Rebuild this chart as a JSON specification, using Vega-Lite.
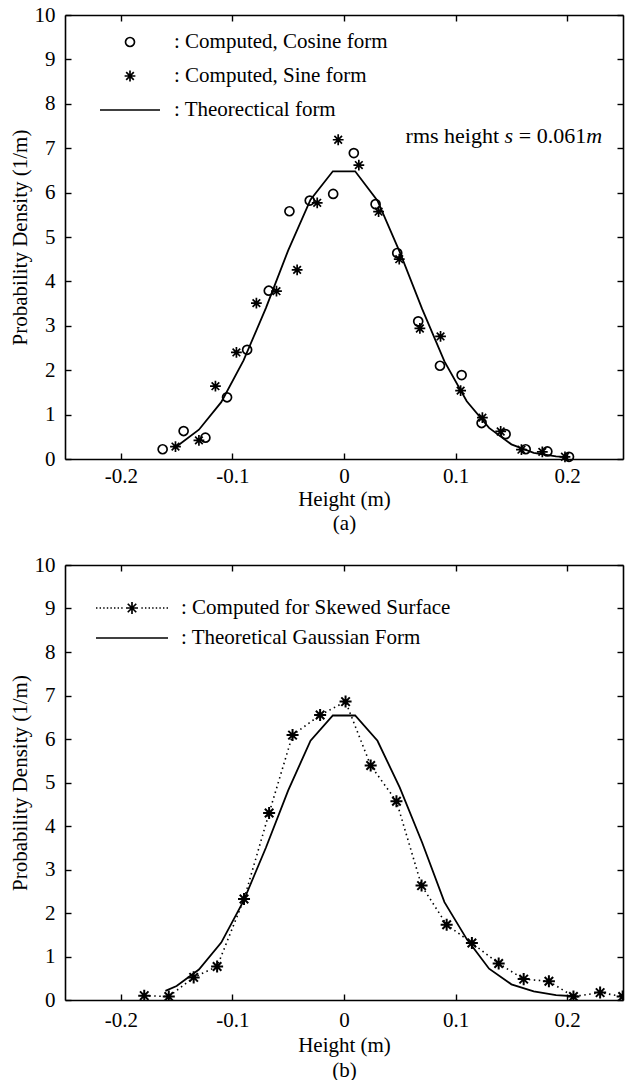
{
  "$schema": "https://vega.github.io/schema/vega-lite/v6.json",
  "background": "white",
  "padding": {"left": 9, "top": 4, "right": 2, "bottom": 0},
  "spacing": 21,
  "resolve": {"scale": {"shape": "independent"}, "legend": {"shape": "independent"}},
  "config": {
    "view": {"stroke": null},
    "font": "Liberation Serif",
    "axis": {
      "labelFont": "Liberation Serif", "labelFontSize": 21, "labelColor": "black",
      "titleFont": "Liberation Serif", "titleFontSize": 21, "titleFontWeight": "normal", "titleColor": "black",
      "domainColor": "black", "domainWidth": 1.6, "tickColor": "black", "tickWidth": 1.4, "tickSize": -6, "grid": false
    }
  },
  "datasets": {
    "thA": [
      {"h": -0.15, "p": 0.28}, {"h": -0.13, "p": 0.66}, {"h": -0.11, "p": 1.28}, {"h": -0.09, "p": 2.22},
      {"h": -0.07, "p": 3.40}, {"h": -0.05, "p": 4.70}, {"h": -0.03, "p": 5.84}, {"h": -0.01, "p": 6.48},
      {"h": 0.01, "p": 6.48}, {"h": 0.03, "p": 5.82}, {"h": 0.05, "p": 4.66}, {"h": 0.07, "p": 3.38},
      {"h": 0.09, "p": 2.20}, {"h": 0.11, "p": 1.30}, {"h": 0.13, "p": 0.70}, {"h": 0.15, "p": 0.33},
      {"h": 0.17, "p": 0.14}, {"h": 0.19, "p": 0.06}, {"h": 0.20, "p": 0.04}
    ],
    "ptsA": [
      {"h": -0.1625, "p": 0.22, "series": "Computed, Cosine form"},
      {"h": -0.1437, "p": 0.63, "series": "Computed, Cosine form"},
      {"h": -0.1242, "p": 0.48, "series": "Computed, Cosine form"},
      {"h": -0.1048, "p": 1.39, "series": "Computed, Cosine form"},
      {"h": -0.0868, "p": 2.46, "series": "Computed, Cosine form"},
      {"h": -0.0674, "p": 3.79, "series": "Computed, Cosine form"},
      {"h": -0.0489, "p": 5.58, "series": "Computed, Cosine form"},
      {"h": -0.0307, "p": 5.82, "series": "Computed, Cosine form"},
      {"h": -0.0097, "p": 5.97, "series": "Computed, Cosine form"},
      {"h": 0.0088, "p": 6.89, "series": "Computed, Cosine form"},
      {"h": 0.0283, "p": 5.74, "series": "Computed, Cosine form"},
      {"h": 0.0477, "p": 4.64, "series": "Computed, Cosine form"},
      {"h": 0.0665, "p": 3.10, "series": "Computed, Cosine form"},
      {"h": 0.0860, "p": 2.10, "series": "Computed, Cosine form"},
      {"h": 0.1054, "p": 1.89, "series": "Computed, Cosine form"},
      {"h": 0.1233, "p": 0.81, "series": "Computed, Cosine form"},
      {"h": 0.1448, "p": 0.56, "series": "Computed, Cosine form"},
      {"h": 0.1628, "p": 0.22, "series": "Computed, Cosine form"},
      {"h": 0.1822, "p": 0.17, "series": "Computed, Cosine form"},
      {"h": 0.2016, "p": 0.05, "series": "Computed, Cosine form"},
      {"h": -0.1510, "p": 0.28, "series": "Computed, Sine form"},
      {"h": -0.1300, "p": 0.42, "series": "Computed, Sine form"},
      {"h": -0.1152, "p": 1.64, "series": "Computed, Sine form"},
      {"h": -0.0964, "p": 2.40, "series": "Computed, Sine form"},
      {"h": -0.0785, "p": 3.51, "series": "Computed, Sine form"},
      {"h": -0.0605, "p": 3.78, "series": "Computed, Sine form"},
      {"h": -0.0420, "p": 4.26, "series": "Computed, Sine form"},
      {"h": -0.0240, "p": 5.77, "series": "Computed, Sine form"},
      {"h": -0.0052, "p": 7.19, "series": "Computed, Sine form"},
      {"h": 0.0133, "p": 6.62, "series": "Computed, Sine form"},
      {"h": 0.0310, "p": 5.57, "series": "Computed, Sine form"},
      {"h": 0.0495, "p": 4.50, "series": "Computed, Sine form"},
      {"h": 0.0680, "p": 2.94, "series": "Computed, Sine form"},
      {"h": 0.0865, "p": 2.76, "series": "Computed, Sine form"},
      {"h": 0.1045, "p": 1.54, "series": "Computed, Sine form"},
      {"h": 0.1240, "p": 0.93, "series": "Computed, Sine form"},
      {"h": 0.1404, "p": 0.62, "series": "Computed, Sine form"},
      {"h": 0.1590, "p": 0.21, "series": "Computed, Sine form"},
      {"h": 0.1777, "p": 0.16, "series": "Computed, Sine form"},
      {"h": 0.1980, "p": 0.05, "series": "Computed, Sine form"}
    ],
    "thB": [
      {"h": -0.16, "p": 0.21}, {"h": -0.15, "p": 0.32}, {"h": -0.13, "p": 0.70}, {"h": -0.11, "p": 1.32},
      {"h": -0.09, "p": 2.28}, {"h": -0.07, "p": 3.50}, {"h": -0.05, "p": 4.82}, {"h": -0.03, "p": 5.96},
      {"h": -0.01, "p": 6.54}, {"h": 0.01, "p": 6.54}, {"h": 0.03, "p": 5.96}, {"h": 0.05, "p": 4.88},
      {"h": 0.07, "p": 3.62}, {"h": 0.09, "p": 2.25}, {"h": 0.11, "p": 1.40}, {"h": 0.13, "p": 0.72},
      {"h": 0.15, "p": 0.36}, {"h": 0.17, "p": 0.20}, {"h": 0.19, "p": 0.11}, {"h": 0.21, "p": 0.08}
    ],
    "ptsB": [
      {"h": -0.1790, "p": 0.10, "series": "Computed for Skewed Surface"},
      {"h": -0.1570, "p": 0.08, "series": "Computed for Skewed Surface"},
      {"h": -0.1347, "p": 0.52, "series": "Computed for Skewed Surface"},
      {"h": -0.1137, "p": 0.77, "series": "Computed for Skewed Surface"},
      {"h": -0.0896, "p": 2.32, "series": "Computed for Skewed Surface"},
      {"h": -0.0671, "p": 4.30, "series": "Computed for Skewed Surface"},
      {"h": -0.0461, "p": 6.09, "series": "Computed for Skewed Surface"},
      {"h": -0.0214, "p": 6.55, "series": "Computed for Skewed Surface"},
      {"h": 0.0014, "p": 6.86, "series": "Computed for Skewed Surface"},
      {"h": 0.0239, "p": 5.39, "series": "Computed for Skewed Surface"},
      {"h": 0.0470, "p": 4.57, "series": "Computed for Skewed Surface"},
      {"h": 0.0695, "p": 2.63, "series": "Computed for Skewed Surface"},
      {"h": 0.0920, "p": 1.73, "series": "Computed for Skewed Surface"},
      {"h": 0.1146, "p": 1.31, "series": "Computed for Skewed Surface"},
      {"h": 0.1386, "p": 0.84, "series": "Computed for Skewed Surface"},
      {"h": 0.1610, "p": 0.48, "series": "Computed for Skewed Surface"},
      {"h": 0.1836, "p": 0.43, "series": "Computed for Skewed Surface"},
      {"h": 0.2056, "p": 0.08, "series": "Computed for Skewed Surface"},
      {"h": 0.2295, "p": 0.17, "series": "Computed for Skewed Surface"},
      {"h": 0.2497, "p": 0.08, "series": "Computed for Skewed Surface"}
    ]
  },
  "vconcat": [
    {
      "width": 558,
      "height": 444,
      "resolve": {"axis": {"x": "independent", "y": "independent"}},
      "layer": [
        {
          "data": {"name": "thA"},
          "mark": {"type": "line", "color": "black", "strokeWidth": 1.8},
          "encoding": {
            "x": {"field": "h", "type": "quantitative",
              "scale": {"domain": [-0.25, 0.25], "nice": false, "zero": false},
              "axis": {"orient": "bottom", "values": [-0.2, -0.1, 0, 0.1, 0.2],
                "labelExpr": "datum.value < 0 ? '-' + format(-datum.value, '.1f') : (datum.value == 0 ? '0' : format(datum.value, '.1f'))",
                "title": ["Height (m)", "(a)"], "labelPadding": 12, "titlePadding": 2, "titleLineHeight": 24}},
            "y": {"field": "p", "type": "quantitative",
              "scale": {"domain": [0, 10], "nice": false, "zero": false},
              "axis": {"orient": "left", "values": [0, 1, 2, 3, 4, 5, 6, 7, 8, 9, 10],
                "title": "Probability Density (1/m)", "labelPadding": 16, "titlePadding": 4}}
          }
        },
        {
          "data": {"name": "ptsA"},
          "mark": {"type": "point", "filled": false, "stroke": "black", "strokeWidth": 1.7, "size": 3600, "opacity": 1},
          "encoding": {
            "x": {"field": "h", "type": "quantitative", "axis": null},
            "y": {"field": "p", "type": "quantitative", "axis": null},
            "shape": {"field": "series", "type": "nominal",
              "scale": {"domain": ["Computed, Cosine form", "Computed, Sine form", "Theorectical form"],
                "range": [
                  "M0.15,0A0.15,0.15,0,1,1,-0.15,0A0.15,0.15,0,1,1,0.15,0Z",
                  "M-0.18,0L0.18,0M0,-0.18L0,0.18M-0.127,-0.127L0.127,0.127M-0.127,0.127L0.127,-0.127",
                  "M-1,0L1,0"]},
              "legend": {"orient": "none", "legendX": 34, "legendY": 10, "title": null,
                "labelExpr": "': ' + datum.label", "symbolSize": 3600, "clipHeight": 34,
                "labelOffset": 13, "rowPadding": 0, "padding": 0,
                "labelFont": "Liberation Serif", "labelFontSize": 21, "labelColor": "black", "labelLimit": 0,
                "symbolStrokeColor": "black", "symbolFillColor": "transparent", "symbolStrokeWidth": 1.7}
            }
          }
        },
        {
          "data": {"values": [{}]},
          "mark": {"type": "text", "font": "Liberation Serif", "fontSize": 22, "align": "left", "baseline": "middle", "color": "black"},
          "encoding": {
            "x": {"datum": 0.0552, "type": "quantitative", "axis": null},
            "y": {"datum": 7.27, "type": "quantitative", "axis": null},
            "text": {"value": "rms height"}
          }
        },
        {
          "data": {"values": [{}]},
          "mark": {"type": "text", "font": "Liberation Serif", "fontSize": 22, "fontStyle": "italic", "align": "left", "baseline": "middle", "color": "black"},
          "encoding": {
            "x": {"datum": 0.1439, "type": "quantitative", "axis": null},
            "y": {"datum": 7.27, "type": "quantitative", "axis": null},
            "text": {"value": "s"}
          }
        },
        {
          "data": {"values": [{}]},
          "mark": {"type": "text", "font": "Liberation Serif", "fontSize": 22, "align": "left", "baseline": "middle", "color": "black"},
          "encoding": {
            "x": {"datum": 0.1566, "type": "quantitative", "axis": null},
            "y": {"datum": 7.27, "type": "quantitative", "axis": null},
            "text": {"value": "= 0.061"}
          }
        },
        {
          "data": {"values": [{}]},
          "mark": {"type": "text", "font": "Liberation Serif", "fontSize": 22, "fontStyle": "italic", "align": "left", "baseline": "middle", "color": "black"},
          "encoding": {
            "x": {"datum": 0.2170, "type": "quantitative", "axis": null},
            "y": {"datum": 7.27, "type": "quantitative", "axis": null},
            "text": {"value": "m"}
          }
        },
        {
          "data": {"name": "thA"},
          "mark": {"type": "line", "opacity": 0},
          "encoding": {
            "x": {"field": "h", "type": "quantitative",
              "axis": {"orient": "top", "values": [-0.2, -0.1, 0, 0.1, 0.2], "labels": false, "title": null}},
            "y": {"field": "p", "type": "quantitative",
              "axis": {"orient": "right", "values": [0, 1, 2, 3, 4, 5, 6, 7, 8, 9, 10], "labels": false, "title": null}}
          }
        }
      ]
    },
    {
      "width": 558,
      "height": 435,
      "resolve": {"axis": {"x": "independent", "y": "independent"}},
      "layer": [
        {
          "data": {"name": "thB"},
          "mark": {"type": "line", "color": "black", "strokeWidth": 1.8},
          "encoding": {
            "x": {"field": "h", "type": "quantitative",
              "scale": {"domain": [-0.25, 0.25], "nice": false, "zero": false},
              "axis": {"orient": "bottom", "values": [-0.2, -0.1, 0, 0.1, 0.2],
                "labelExpr": "datum.value < 0 ? '-' + format(-datum.value, '.1f') : (datum.value == 0 ? '0' : format(datum.value, '.1f'))",
                "title": ["Height (m)", "(b)"], "labelPadding": 15, "titlePadding": 4, "titleLineHeight": 25}},
            "y": {"field": "p", "type": "quantitative",
              "scale": {"domain": [0, 10], "nice": false, "zero": false},
              "axis": {"orient": "left", "values": [0, 1, 2, 3, 4, 5, 6, 7, 8, 9, 10],
                "title": "Probability Density (1/m)", "labelPadding": 16, "titlePadding": 4}}
          }
        },
        {
          "data": {"name": "ptsB"},
          "mark": {"type": "line", "color": "black", "strokeWidth": 1.6, "strokeDash": [1.5, 3.5], "clip": true},
          "encoding": {
            "x": {"field": "h", "type": "quantitative", "axis": null},
            "y": {"field": "p", "type": "quantitative", "axis": null}
          }
        },
        {
          "data": {"name": "ptsB"},
          "mark": {"type": "point", "filled": false, "stroke": "black", "strokeWidth": 2, "size": 5184, "opacity": 1, "clip": true,
            "shape": "M-0.167,0L0.167,0M0,-0.167L0,0.167M-0.118,-0.118L0.118,0.118M-0.118,0.118L0.118,-0.118"},
          "encoding": {
            "x": {"field": "h", "type": "quantitative", "axis": null},
            "y": {"field": "p", "type": "quantitative", "axis": null}
          }
        },
        {
          "data": {"name": "ptsB"},
          "mark": {"type": "point", "filled": false, "stroke": "black", "strokeWidth": 1.7, "size": 5184, "opacity": 0},
          "encoding": {
            "x": {"field": "h", "type": "quantitative", "axis": null},
            "y": {"field": "p", "type": "quantitative", "axis": null},
            "shape": {"field": "series", "type": "nominal",
              "scale": {"domain": ["Computed for Skewed Surface", "Theoretical Gaussian Form"],
                "range": [
                  "M-1,0L-0.96,0M-0.9,0L-0.86,0M-0.8,0L-0.76,0M-0.7,0L-0.66,0M-0.6,0L-0.56,0M-0.5,0L-0.46,0M-0.4,0L-0.36,0M-0.3,0L-0.26,0M0.26,0L0.3,0M0.36,0L0.4,0M0.46,0L0.5,0M0.56,0L0.6,0M0.66,0L0.7,0M0.76,0L0.8,0M0.86,0L0.9,0M0.96,0L1,0M-0.167,0L0.167,0M0,-0.167L0,0.167M-0.118,-0.118L0.118,0.118M-0.118,0.118L0.118,-0.118",
                  "M-1,0L1,0"]},
              "legend": {"orient": "none", "legendX": 30, "legendY": 28, "title": null,
                "labelExpr": "': ' + datum.label", "symbolSize": 5184, "clipHeight": 30,
                "labelOffset": 12, "rowPadding": 0, "padding": 0,
                "labelFont": "Liberation Serif", "labelFontSize": 21, "labelColor": "black", "labelLimit": 0,
                "symbolStrokeColor": "black", "symbolFillColor": "transparent", "symbolStrokeWidth": 1.7,
                "symbolOpacity": 1}
            }
          }
        },
        {
          "data": {"name": "thB"},
          "mark": {"type": "line", "opacity": 0},
          "encoding": {
            "x": {"field": "h", "type": "quantitative",
              "axis": {"orient": "top", "values": [-0.2, -0.1, 0, 0.1, 0.2], "labels": false, "title": null}},
            "y": {"field": "p", "type": "quantitative",
              "axis": {"orient": "right", "values": [0, 1, 2, 3, 4, 5, 6, 7, 8, 9, 10], "labels": false, "title": null}}
          }
        }
      ]
    }
  ]
}
